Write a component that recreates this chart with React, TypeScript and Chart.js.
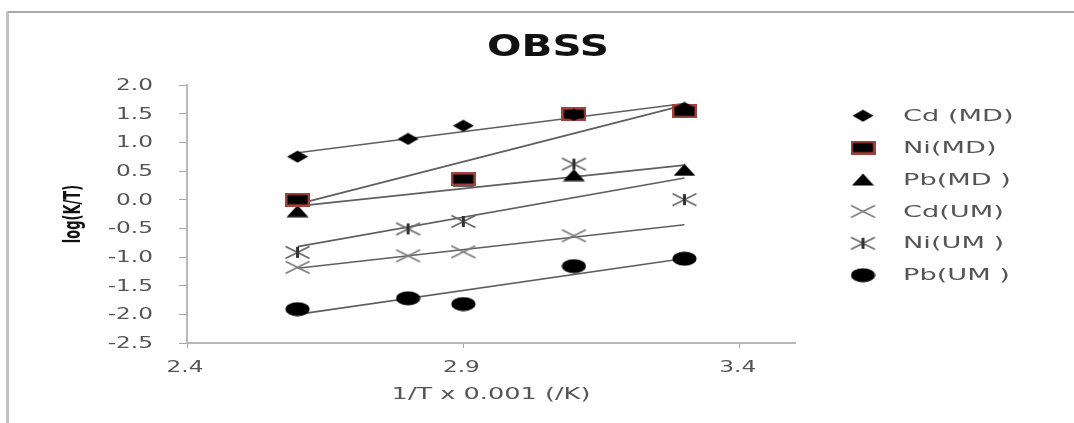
import React, { useEffect, useRef } from 'react';
import { Chart, registerables } from 'chart.js';

Chart.register(...registerables);

// ---- data ----
const xValues = [2.6, 2.8, 2.9, 3.1, 3.3];
const seriesNames = ['Cd (MD)', 'Ni(MD)', 'Pb(MD )', 'Cd(UM)', 'Ni(UM )', 'Pb(UM )'];
const cdMD = [0.75, 1.06, 1.29, 1.48, 1.6];
const niMD = [0.0, null, 0.36, 1.49, 1.54];
const pbMD = [-0.2, null, 0.33, 0.43, 0.52];
const cdUM = [-1.18, -0.98, -0.91, -0.63, null];
const niUM = [-0.92, -0.51, -0.38, 0.62, 0.0];
const pbUM = [-1.91, -1.72, -1.82, -1.16, -1.03];
const xTickValues = [2.4, 2.9, 3.4];
const yTickValues = [-2.5, -2.0, -1.5, -1.0, -0.5, 0.0, 0.5, 1.0, 1.5, 2.0];
const trendRange = [2.6, 3.3];
const chartTitle = 'OBSS';
const xTitle = '1/T x 0.001 (/K)';
const yTitle = 'log(K/T)';

const allSeries = [cdMD, niMD, pbMD, cdUM, niUM, pbUM];
const markerKinds = ['diamond', 'square', 'triangle', 'x', 'star', 'circle'];

type Pt = { x: number; y: number };

function toPoints(vals: (number | null)[]): Pt[] {
  const out: Pt[] = [];
  vals.forEach((v, i) => {
    if (v !== null && v !== undefined) out.push({ x: xValues[i], y: v });
  });
  return out;
}

function trend(vals: (number | null)[]): Pt[] {
  const pts = toPoints(vals);
  const n = pts.length;
  const mx = pts.reduce((s, p) => s + p.x, 0) / n;
  const my = pts.reduce((s, p) => s + p.y, 0) / n;
  let sxy = 0, sxx = 0;
  pts.forEach((p) => {
    sxy += (p.x - mx) * (p.y - my);
    sxx += (p.x - mx) * (p.x - mx);
  });
  const slope = sxy / sxx;
  const b = my - slope * mx;
  return trendRange.map((x) => ({ x, y: slope * x + b }));
}

function makeMarker(kind: string): HTMLCanvasElement {
  const sizes: Record<string, [number, number]> = {
    diamond: [22, 13],
    square: [25, 14],
    triangle: [23, 13],
    x: [27, 15],
    star: [27, 15],
    circle: [25, 15],
  };
  const [w, h] = sizes[kind];
  const c = document.createElement('canvas');
  c.width = w;
  c.height = h;
  const g = c.getContext('2d')!;
  g.fillStyle = '#000';
  if (kind === 'diamond') {
    g.beginPath();
    g.moveTo(w / 2, 0.5);
    g.lineTo(w - 0.5, h / 2);
    g.lineTo(w / 2, h - 0.5);
    g.lineTo(0.5, h / 2);
    g.closePath();
    g.fill();
  } else if (kind === 'square') {
    g.fillStyle = '#a3413d';
    g.fillRect(0, 0, w, h);
    g.fillStyle = '#000';
    g.fillRect(2.5, 2.5, w - 5, h - 5);
  } else if (kind === 'triangle') {
    g.beginPath();
    g.moveTo(w / 2, 0.5);
    g.lineTo(w - 0.5, h - 0.5);
    g.lineTo(0.5, h - 0.5);
    g.closePath();
    g.fill();
  } else if (kind === 'x' || kind === 'star') {
    g.strokeStyle = kind === 'x' ? '#7a7a7a' : '#666';
    g.lineWidth = 1.6;
    g.beginPath();
    g.moveTo(1.5, 1.5);
    g.lineTo(w - 1.5, h - 1.5);
    g.moveTo(w - 1.5, 1.5);
    g.lineTo(1.5, h - 1.5);
    g.stroke();
    if (kind === 'star') {
      g.strokeStyle = '#333';
      g.lineWidth = 3;
      g.beginPath();
      g.moveTo(w / 2, 2);
      g.lineTo(w / 2, h - 2);
      g.stroke();
    }
  } else if (kind === 'circle') {
    g.beginPath();
    g.ellipse(w / 2, h / 2, w / 2 - 0.5, h / 2 - 0.5, 0, 0, Math.PI * 2);
    g.fill();
  }
  return c;
}

function stretchedText(
  ctx: CanvasRenderingContext2D,
  text: string,
  x: number,
  y: number,
  sx: number,
  align: CanvasTextAlign
) {
  ctx.save();
  ctx.translate(x, y);
  ctx.scale(sx, 1);
  ctx.textAlign = align;
  ctx.fillText(text, 0, 0);
  ctx.restore();
}

export default function App() {
  const ref = useRef<HTMLCanvasElement>(null);

  useEffect(() => {
    if (!ref.current) return;
    const markers = markerKinds.map(makeMarker);

    const datasets: any[] = [];
    allSeries.forEach((vals, i) => {
      datasets.push({
        type: 'line',
        label: seriesNames[i],
        data: toPoints(vals),
        showLine: false,
        pointStyle: markers[i],
        pointRadius: 6,
        order: 0,
      });
    });
    allSeries.forEach((vals, i) => {
      datasets.push({
        type: 'line',
        label: seriesNames[i] + ' trend',
        data: trend(vals),
        borderColor: '#5f5f5f',
        borderWidth: 1.6,
        pointRadius: 0,
        fill: false,
        order: 1,
      });
    });

    const decor = {
      id: 'decor',
      beforeDraw(chart: any) {
        const ctx = chart.ctx;
        ctx.save();
        ctx.fillStyle = '#fff';
        ctx.fillRect(0, 0, chart.width, chart.height);
        ctx.fillStyle = '#a9a9a9';
        ctx.fillRect(7, 11, chart.width - 7, 2);
        ctx.fillStyle = '#c2c2c2';
        ctx.fillRect(6, 12, 3, chart.height - 12);
        ctx.restore();
      },
      afterDraw(chart: any) {
        const ctx: CanvasRenderingContext2D = chart.ctx;
        const xs = chart.scales.x;
        const ys = chart.scales.y;
        ctx.save();
        // title
        ctx.fillStyle = '#111';
        ctx.font = 'bold 30px "DejaVu Sans"';
        ctx.textBaseline = 'alphabetic';
        stretchedText(ctx, chartTitle, 548, 56, 1.35, 'center');

        // tick labels from the library's scales
        ctx.fillStyle = '#555';
        ctx.font = '16px "DejaVu Sans"';
        ctx.textBaseline = 'middle';
        ys.ticks.forEach((t: any) => {
          const py = ys.getPixelForValue(t.value);
          stretchedText(ctx, Number(t.value).toFixed(1), 153, py + 1, 1.45, 'right');
        });
        xs.ticks.forEach((t: any) => {
          const px = xs.getPixelForValue(t.value);
          stretchedText(ctx, Number(t.value).toFixed(1), px - 2, 368, 1.45, 'center');
        });
        // x title
        stretchedText(ctx, xTitle, (xs.left + xs.right) / 2, 395, 1.6, 'center');

        // y axis title
        ctx.save();
        ctx.fillStyle = '#111';
        ctx.font = 'bold 13px "DejaVu Sans"';
        ctx.textAlign = 'center';
        ctx.textBaseline = 'middle';
        ctx.translate(74, (ys.top + ys.bottom) / 2);
        ctx.rotate(-Math.PI / 2);
        ctx.scale(1, 1.8);
        ctx.fillText(yTitle, 0, 0);
        ctx.restore();

        // legend
        ctx.font = '16px "DejaVu Sans"';
        ctx.fillStyle = '#555';
        ctx.textBaseline = 'middle';
        seriesNames.forEach((name, i) => {
          const y = 115.7 + i * 31.9;
          const m = markers[i];
          ctx.drawImage(m, 863 - m.width / 2, y - m.height / 2);
          stretchedText(ctx, name, 903, y + 1, 1.7, 'left');
        });
        ctx.restore();
      },
    };

    const chart = new Chart(ref.current, {
      type: 'line',
      data: { datasets },
      options: {
        animation: false,
        responsive: false,
        layout: { padding: { left: 66, top: 85, right: 279, bottom: 0 } },
        plugins: {
          legend: { display: false },
          tooltip: { enabled: false },
          title: { display: false },
        },
        scales: {
          x: {
            type: 'linear',
            min: 2.4,
            max: 3.5,
            afterBuildTicks: (scale: any) => {
              scale.ticks = xTickValues.map((v) => ({ value: v }));
            },
            afterFit: (scale: any) => {
              scale.height = 80;
            },
            ticks: { display: false },
            grid: { display: true, drawOnChartArea: false, drawTicks: true, tickLength: 5, color: '#a6a6a6' },
            border: { display: true, color: '#b8b8b8', width: 2 },
            title: { display: false },
          },
          y: {
            type: 'linear',
            min: -2.5,
            max: 2.0,
            afterBuildTicks: (scale: any) => {
              scale.ticks = yTickValues.map((v) => ({ value: v }));
            },
            afterFit: (scale: any) => {
              scale.width = 121;
            },
            ticks: { display: false },
            grid: { display: true, drawOnChartArea: false, drawTicks: true, tickLength: 8, color: '#a6a6a6' },
            border: { display: true, color: '#b8b8b8', width: 2 },
            title: { display: false },
          },
        },
      },
      plugins: [decor],
    } as any);

    return () => chart.destroy();
  }, []);

  return (
    <div style={{ position: 'absolute', left: 0, top: 0, width: 1074, height: 423, background: '#fff' }}>
      <canvas ref={ref} width={1074} height={423} style={{ display: 'block' }} />
    </div>
  );
}
